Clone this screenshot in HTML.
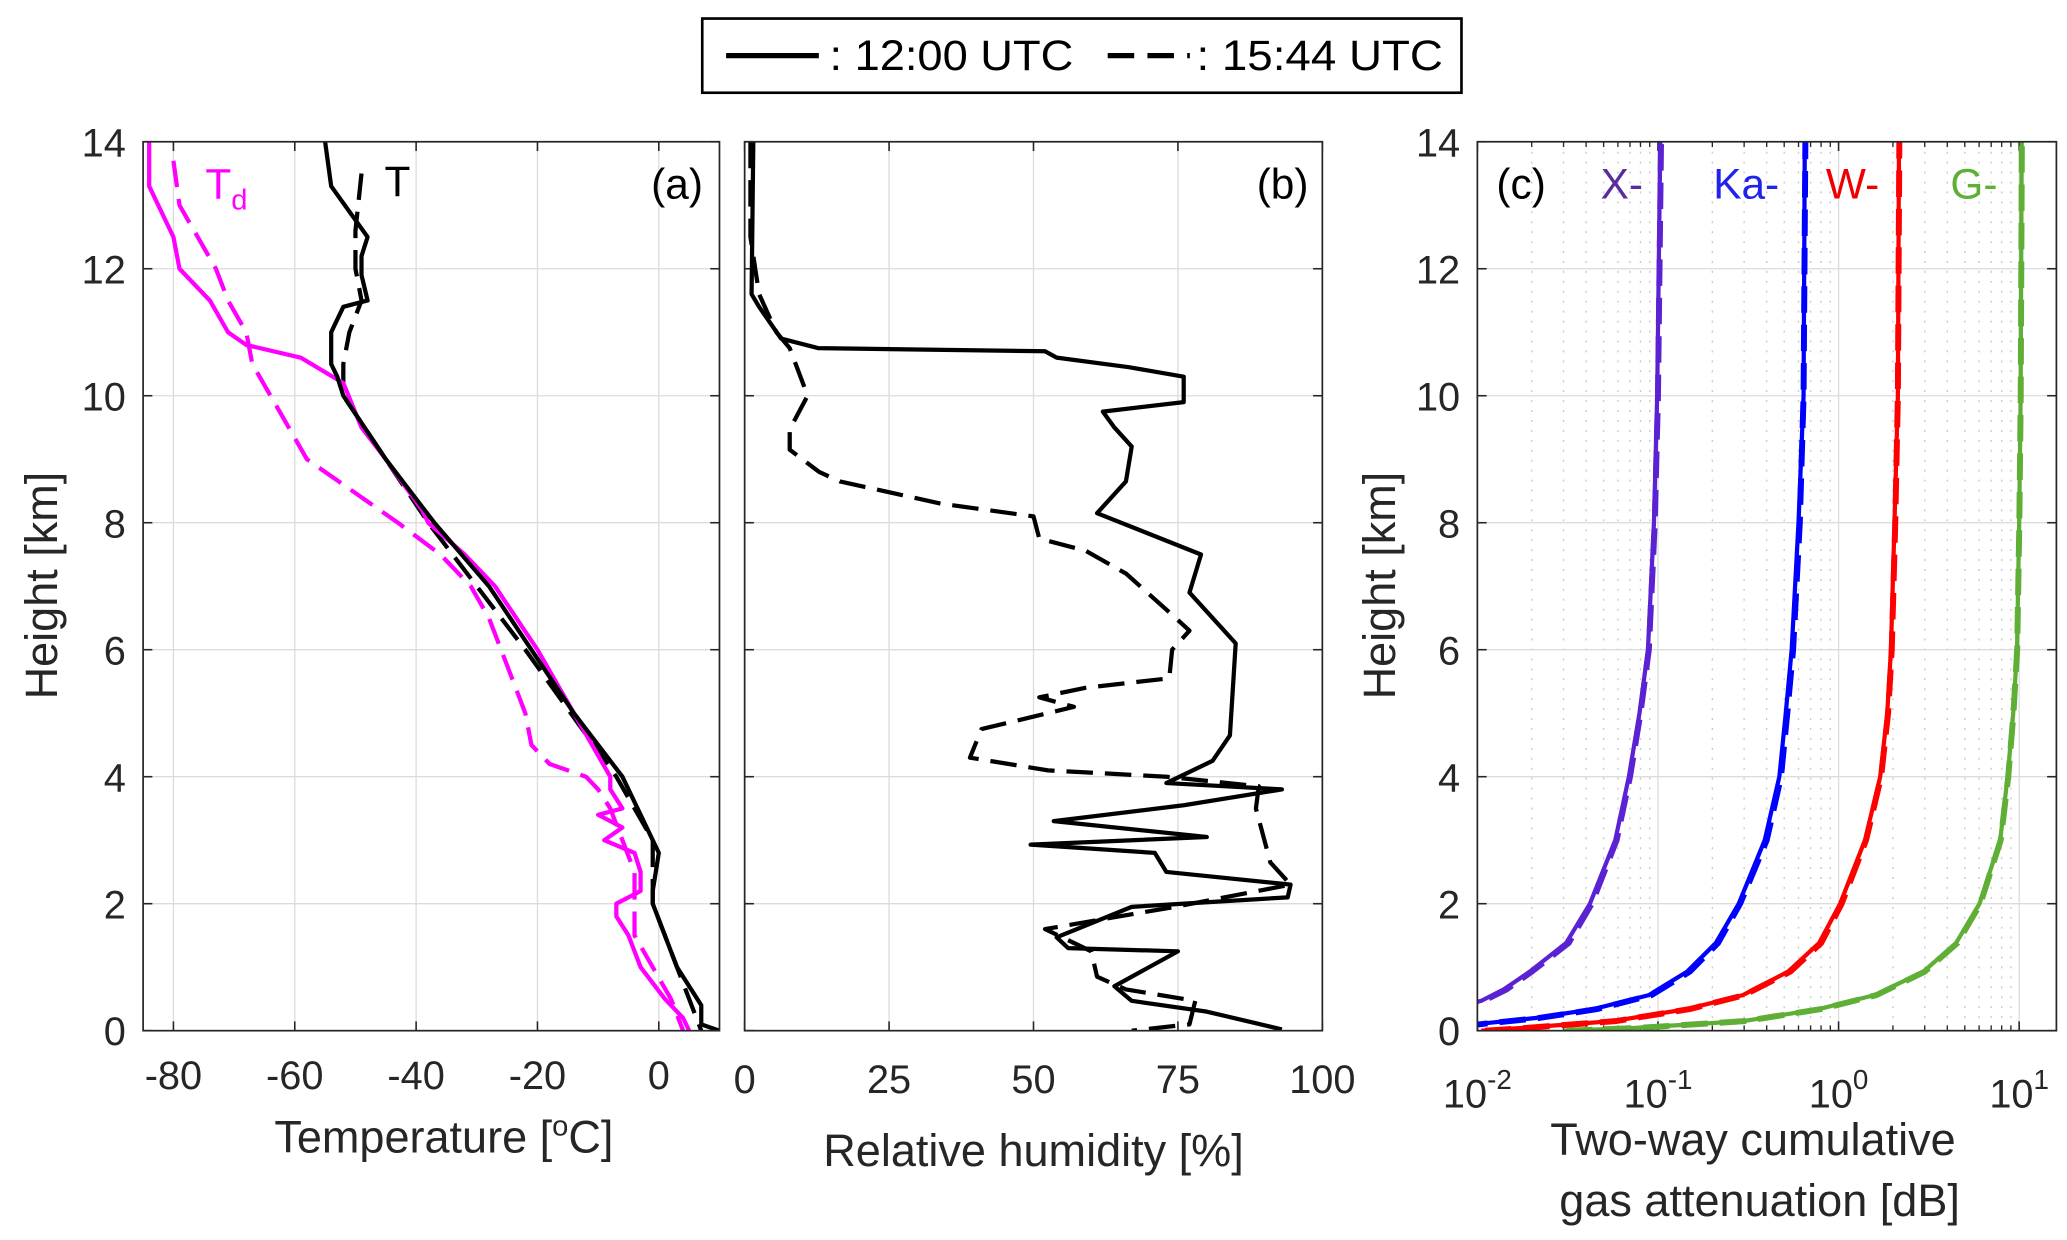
<!DOCTYPE html>
<html><head><meta charset="utf-8"><title>Sounding profiles</title>
<style>
html,body{margin:0;padding:0;background:#fff;}
svg{display:block;font-family:"Liberation Sans",Arial,sans-serif;}
</style></head>
<body>
<svg id="fig" width="2067" height="1240" viewBox="0 0 1560 936" preserveAspectRatio="none" xmlns="http://www.w3.org/2000/svg">
<defs>
<clipPath id="clipA"><rect x="108" y="107" width="435" height="671"/></clipPath>
<clipPath id="clipB"><rect x="562" y="107" width="436" height="671"/></clipPath>
<clipPath id="clipC"><rect x="1115" y="107" width="437" height="671"/></clipPath>
</defs>
<g>
<rect x="530" y="14" width="573" height="56" fill="#fff" stroke="#000" stroke-width="2"/>
<line x1="548" y1="42" x2="618" y2="42" stroke="#000" stroke-width="4"/>
<text x="626" y="53" font-size="32" textLength="184" lengthAdjust="spacingAndGlyphs">: 12:00 UTC</text>
<line x1="836" y1="42" x2="898" y2="42" stroke="#000" stroke-width="4" stroke-dasharray="20,10"/>
<text x="903" y="53" font-size="32" textLength="186" lengthAdjust="spacingAndGlyphs">: 15:44 UTC</text>
</g>
<g id="gA"></g>
<g id="gB"></g>
<g id="gC"></g>
</svg>
<script>
// ---------- data ----------
const heightTicks = [0,2,4,6,8,10,12,14];
const tempTicks = [-80,-60,-40,-20,0];
const rhTicks = [0,25,50,75,100];
const attTickExp = [-2,-1,0,1];

const tSolidH = [14,13.3,12.5,12.2,11.9,11.5,11.4,11,10.5,10.3,10,9,8.5,8,7,6,5,4,3,2.8,2.2,2,1,0.4,0.1,0];
const tSolidV = [-55,-54,-48,-49,-49,-48,-52,-54,-54,-53,-52,-45,-41,-37,-28,-21,-14,-6,-1,0,-1,-1,3,7,7,10];
const tDashH = [13.5,12.6,12,11.5,11,10.5,10,9,8,6,4,3,2.5,2,1,0];
const tDashV = [-49,-50,-50,-49,-51,-52,-52,-45,-38,-22,-7,-1,-1,-1,3,7];
const tdSolidH = [14,13.3,12.5,12,11.5,11,10.8,10.6,10.2,9.5,9,8.2,8,7.5,7,6,5,4.5,4,3.8,3.5,3.4,3.2,3,2.8,2.5,2.2,2,1.8,1.5,1,0.5,0.2,0];
const tdSolidV = [-84,-84,-80,-79,-74,-71,-68,-59,-52,-49,-45,-39,-38,-32,-27,-20,-14,-11,-8,-8,-6,-10,-6,-9,-4,-3,-3,-7,-7,-5,-3,1,4,5];
const tdDashH = [13.7,13,12.5,12,11.5,11,10.5,10,9.5,9,8.6,8.2,8,7.5,7,6.5,6,5.5,5,4.5,4.2,4,3.8,3.5,3,2.5,2,1.5,1,0.5,0];
const tdDashV = [-80,-79,-76,-73,-71,-68,-67,-64,-61,-58,-52,-46,-43,-36,-31,-28,-26,-24,-22,-21,-18,-12,-10,-8,-6,-4,-4,-4,-1,2,4];

const rhSolidH = [14,11.6,11.4,10.9,10.75,10.7,10.6,10.45,10.3,9.9,9.75,9.5,9.2,8.65,8.15,7.5,6.9,6.1,4.65,4.25,3.9,3.8,3.55,3.3,3.05,2.93,2.8,2.5,2.3,2.1,1.95,1.47,1.3,1.25,0.7,0.47,0.3,0.02];
const rhSolidV = [1.5,1.2,2.5,6.3,12.7,52,54,66.5,76,76,62,64,67,66,61,79,77,85,84,81,73,93,76,53.5,80,49.5,71,73,94.5,94,67,54,56,75,64,67,80,93];
const rhDashH = [14,12.5,11.6,11.4,11,10.75,10,9.47,9.15,8.8,8.65,8.3,8.1,7.75,7.56,7.2,6.55,6.3,6,5.55,5.4,5.25,5.1,4.75,4.3,4.1,4,3.85,3.5,2.65,2.3,1.95,1.6,1.25,0.85,0.65,0.47,0.1,0];
const rhDashV = [1,1,2.5,3.5,5.5,7.8,10.9,7.8,7.8,12.9,16.5,34,50,51,59,66,74,77,74,73.5,59,51,57,41,39,52.5,73,89,88.5,91,94.5,74.5,52,60,61,66,78,77,67];

const xH = [0.2,0.47,0.65,0.93,1.38,2,3,4,5,6,8,10,14];
const xSolid = [0.0045,0.0105,0.014,0.0195,0.031,0.042,0.058,0.069,0.079,0.088,0.095,0.099,0.103];
const xDash = [0.0045,0.0108,0.0145,0.0200,0.032,0.043,0.059,0.070,0.080,0.089,0.096,0.100,0.104];
const kaH = [0,0.11,0.2,0.34,0.56,0.93,1.38,2,3,4,5,6,8,10,14];
const kaSolid = [0.005,0.0105,0.021,0.044,0.089,0.145,0.209,0.28,0.39,0.47,0.51,0.55,0.60,0.64,0.65];
const kaDash = [0.005,0.011,0.022,0.046,0.092,0.150,0.215,0.285,0.40,0.48,0.52,0.56,0.61,0.64,0.655];
const wH = [0,0.04,0.15,0.34,0.56,0.93,1.38,2,3,4,5,6,8,10,14];
const wSolid = [0.0105,0.017,0.056,0.145,0.295,0.525,0.78,1.02,1.40,1.70,1.86,1.95,2.04,2.13,2.16];
const wDash = [0.011,0.018,0.058,0.15,0.30,0.54,0.80,1.04,1.42,1.72,1.88,1.97,2.06,2.13,2.17];
const gH = [0,0.04,0.15,0.34,0.56,0.93,1.38,2,3,4,5,6,8,10,14];
const gSolid = [0.030,0.071,0.295,0.78,1.58,2.95,4.47,6.03,7.85,8.63,9.27,9.73,10.0,10.19,10.33];
const gDash = [0.031,0.074,0.30,0.80,1.62,3.0,4.55,6.1,7.9,8.7,9.3,9.75,10.02,10.2,10.35];

// ---------- helpers ----------
const NS = "http://www.w3.org/2000/svg";
const yTop = 107, yBot = 778;
function yS(h){ return yBot - (h/14)*(yBot-yTop); }
function mk(tag, attrs, parent){
  const e = document.createElementNS(NS, tag);
  for (const k in attrs) e.setAttribute(k, attrs[k]);
  parent.appendChild(e); return e;
}
function path(xs, hs, fx, parent, color, dashed, w){
  let d = "";
  for (let i=0;i<xs.length;i++){ d += (i?"L":"M") + fx(xs[i]).toFixed(2) + "," + yS(hs[i]).toFixed(2); }
  const p = mk("path", {d:d, fill:"none", stroke:color, "stroke-width":w||3.2, "stroke-linejoin":"round"}, parent);
  if (dashed) p.setAttribute("stroke-dasharray","20,9");
  return p;
}
function frame(g, x0, x1){
  mk("rect",{x:x0,y:yTop,width:x1-x0,height:yBot-yTop,fill:"none",stroke:"#262626","stroke-width":1.3},g);
}
function yAxis(g, x0, x1, labels){
  heightTicks.forEach(h=>{
    const y = yS(h);
    const gl = mk("line",{x1:x0,x2:x1,y1:y,y2:y,stroke:"#dcdcdc","stroke-width":1},g);
    
    
    mk("line",{x1:x0,x2:x0+7,y1:y,y2:y,stroke:"#262626","stroke-width":1.2},g);
    mk("line",{x1:x1-7,x2:x1,y1:y,y2:y,stroke:"#262626","stroke-width":1.2},g);
    if (labels){
      const t = mk("text",{x:x0-13,y:y+11,"font-size":30,"text-anchor":"end",fill:"#262626"},g);
      t.textContent = h;
      
      
    }
  });
}
function txt(g, x, y, s, size, color, anchor){
  const t = mk("text",{x:x,y:y,"font-size":size,fill:color||"#000","text-anchor":anchor||"middle"},g);
  t.textContent = s; return t;
}

// ---------- panel a ----------
(function(){
  const g = document.getElementById("gA");
  const x0=108, x1=543, vmin=-85, vmax=10;
  const fx = v => x0 + (v-vmin)/(vmax-vmin)*(x1-x0);
  tempTicks.forEach(v=>{
    const x = fx(v);
    const gl = mk("line",{x1:x,x2:x,y1:yTop,y2:yBot,stroke:"#dcdcdc","stroke-width":1},g);
    
    
    mk("line",{x1:x,x2:x,y1:yBot-7,y2:yBot,stroke:"#262626","stroke-width":1.2},g);
    mk("line",{x1:x,x2:x,y1:yTop,y2:yTop+7,stroke:"#262626","stroke-width":1.2},g);
    const t = txt(g, x, 822, v, 30, "#262626");
    
    
  });
  yAxis(g, x0, x1, true);
  const c = mk("g",{"clip-path":"url(#clipA)"},g);
  let p;
  p = path(tdDashV, tdDashH, fx, c, "#ff00ff", true);
   
  p = path(tDashV, tDashH, fx, c, "#000", true);
   
  p = path(tdSolidV, tdSolidH, fx, c, "#ff00ff", false);
   
  p = path(tSolidV, tSolidH, fx, c, "#000", false);
   
  frame(g, x0, x1);
  let t = mk("text",{x:155,y:150,"font-size":32,fill:"#ff00ff"},g);
  t.innerHTML = 'T<tspan font-size="22" dy="8">d</tspan>';
   
  t = txt(g, 300, 148, "T", 32, "#000");
   
  t = txt(g, 511, 150, "(a)", 32, "#000");
   
  t = mk("text",{x:335,y:870,"font-size":34,"text-anchor":"middle",fill:"#262626"},g);
  t.innerHTML = 'Temperature [<tspan font-size="22" dy="-13">o</tspan><tspan dy="13">C]</tspan>';
   
  t = mk("text",{x:0,y:0,"font-size":34,"text-anchor":"middle",fill:"#262626",transform:"translate(43,442) rotate(-90)"},g);
  t.textContent = "Height [km]";
   
})();

// ---------- panel b ----------
(function(){
  const g = document.getElementById("gB");
  const x0=562, x1=998;
  const fx = v => x0 + v/100*(x1-x0);
  rhTicks.forEach(v=>{
    const x = fx(v);
    const gl = mk("line",{x1:x,x2:x,y1:yTop,y2:yBot,stroke:"#dcdcdc","stroke-width":1},g);
    
    
    mk("line",{x1:x,x2:x,y1:yBot-7,y2:yBot,stroke:"#262626","stroke-width":1.2},g);
    mk("line",{x1:x,x2:x,y1:yTop,y2:yTop+7,stroke:"#262626","stroke-width":1.2},g);
    const t = txt(g, x, 825, v, 30, "#262626");
    
    
  });
  yAxis(g, x0, x1, false);
  const c = mk("g",{"clip-path":"url(#clipB)"},g);
  let p = path(rhDashV, rhDashH, fx, c, "#000", true);
   
  p = path(rhSolidV, rhSolidH, fx, c, "#000", false);
   
  frame(g, x0, x1);
  let t = txt(g, 968, 150, "(b)", 32, "#000");
   
  t = txt(g, 780, 880, "Relative humidity [%]", 34, "#262626");
   
})();

// ---------- panel c ----------
(function(){
  const g = document.getElementById("gC");
  const x0=1115, x1=1552, lmin=-2, dec=136.3;
  const fx = v => x0 + (Math.log10(v)-lmin)*dec;
  for (let e=-2;e<=1;e++){
    for (let m=2;m<=9;m++){
      const x = fx(m*Math.pow(10,e));
      if (x>x1) continue;
      const gl = mk("line",{x1:x,x2:x,y1:yTop,y2:yBot,stroke:"#c8c8c8","stroke-width":1,"stroke-dasharray":"1.5,6"},g);
      
      
      mk("line",{x1:x,x2:x,y1:yBot-4,y2:yBot,stroke:"#262626","stroke-width":1},g);
      mk("line",{x1:x,x2:x,y1:yTop,y2:yTop+4,stroke:"#262626","stroke-width":1},g);
    }
  }
  attTickExp.forEach(e=>{
    const x = fx(Math.pow(10,e));
    const gl = mk("line",{x1:x,x2:x,y1:yTop,y2:yBot,stroke:"#dcdcdc","stroke-width":1},g);
    
    
    mk("line",{x1:x,x2:x,y1:yBot-7,y2:yBot,stroke:"#262626","stroke-width":1.2},g);
    mk("line",{x1:x,x2:x,y1:yTop,y2:yTop+7,stroke:"#262626","stroke-width":1.2},g);
    const t = mk("text",{x:x,y:836,"font-size":30,"text-anchor":"middle",fill:"#262626"},g);
    t.innerHTML = '10<tspan font-size="21" dy="-14">' + e + '</tspan>';
    
    
  });
  yAxis(g, x0, x1, true);
  const c = mk("g",{"clip-path":"url(#clipC)"},g);
  const series = [
    ["x-band", xH, xSolid, xDash, "#5a22d2"],
    ["ka-band", kaH, kaSolid, kaDash, "#0000ff"],
    ["w-band", wH, wSolid, wDash, "#ff0000"],
    ["g-band", gH, gSolid, gDash, "#5fae35"]
  ];
  series.forEach(s=>{
    let p = path(s[2], s[1], fx, c, s[4], false);
    
    
    p = path(s[3], s[1], fx, c, s[4], true, 4.5);
    
    
  });
  frame(g, x0, x1);
  let t = txt(g, 1148, 150, "(c)", 32, "#000");
   
  t = txt(g, 1208, 150, "X-", 32, "#5b2d9a", "start");
   
  t = txt(g, 1293, 150, "Ka-", 32, "#2222ee", "start");
   
  t = txt(g, 1378, 150, "W-", 32, "#ee0000", "start");
   
  t = txt(g, 1472, 150, "G-", 32, "#5fae35", "start");
   
  t = txt(g, 1323, 872, "Two-way cumulative", 34, "#262626");
   
  t = txt(g, 1328, 918, "gas attenuation [dB]", 34, "#262626");
   
  t = mk("text",{x:0,y:0,"font-size":34,"text-anchor":"middle",fill:"#262626",transform:"translate(1053,442) rotate(-90)"},g);
  t.textContent = "Height [km]";
   
})();
</script>
</body></html>
